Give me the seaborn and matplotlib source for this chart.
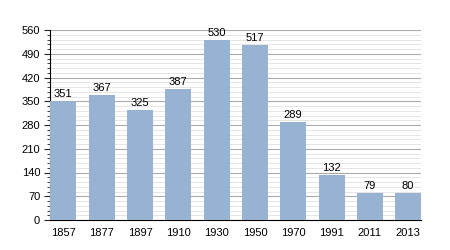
import matplotlib
matplotlib.use("Agg")
import matplotlib.pyplot as plt
import seaborn as sns
import pandas as pd
from matplotlib.ticker import MultipleLocator

years = ["1857", "1877", "1897", "1910", "1930", "1950", "1970", "1991", "2011", "2013"]
population = [351, 367, 325, 387, 530, 517, 289, 132, 79, 80]

df = pd.DataFrame({"year": years, "pop": population})

sns.set_style("white")
plt.rcParams['font.family'] = ['Liberation Sans', 'DejaVu Sans']

fig = plt.figure(figsize=(4.5, 2.5), dpi=100)
ax = fig.add_axes([0.111, 0.12, 0.825, 0.76])

sns.barplot(data=df, x="year", y="pop", color="#98b2d1", saturation=1, width=0.68,
            edgecolor="none", linewidth=0, ax=ax, zorder=3)

ax.set_ylim(0, 560)
ax.set_xlim(-0.35, len(years) - 0.66)
ax.yaxis.set_major_locator(MultipleLocator(70))
ax.yaxis.set_minor_locator(MultipleLocator(14))
ax.grid(which="major", axis="y", color="#aaaaaa", linewidth=0.8, zorder=0)
ax.grid(which="minor", axis="y", color="#e0e0e0", linewidth=0.6, zorder=0)
ax.set_axisbelow(True)

for s in ["top", "right"]:
    ax.spines[s].set_visible(False)
ax.spines["left"].set_color("black")
ax.spines["bottom"].set_color("black")
ax.spines["left"].set_linewidth(0.8)
ax.spines["bottom"].set_linewidth(0.8)

ax.tick_params(axis="y", which="major", left=True, length=4, width=0.8, labelsize=8, pad=3, labelcolor="black")
ax.tick_params(axis="y", which="minor", left=True, length=2, width=0.6)
ax.tick_params(axis="x", bottom=False, labelsize=8, pad=2, labelcolor="black")

for i, v in enumerate(population):
    ax.text(i, v + 6, str(v), ha="center", va="bottom", fontsize=8, color="black")

ax.set_xlabel("")
ax.set_ylabel("")

fig.savefig("out.png", dpi=100)
